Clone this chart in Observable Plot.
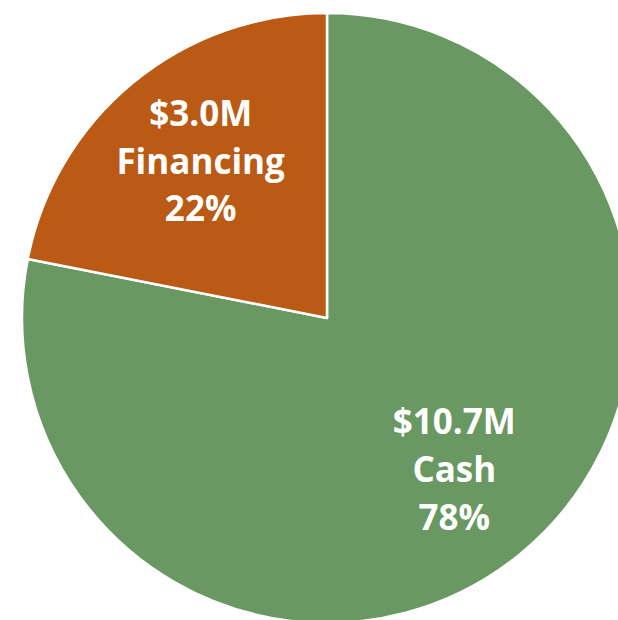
<!DOCTYPE html>
<html>
<head>
<meta charset="utf-8">
<script src="https://cdn.jsdelivr.net/npm/d3@7"></script>
<script src="https://cdn.jsdelivr.net/npm/@observablehq/plot@0.6"></script>
<style>
  html, body { margin: 0; padding: 0; background: #fff; overflow: hidden; }
</style>
</head>
<body>
<div id="chart"></div>
<script>
const categories = ["Cash", "Financing"];
const amounts = [10.7, 3.0];          // $M
const colors = ["#6A9862", "#BA5A14"];

const total = d3.sum(amounts);
const pie = d3.pie().sort(null).value(d => d.amount);
const rows = categories.map((c, i) => ({category: c, amount: amounts[i], color: colors[i]}));
const arcs = pie(rows);

const labelR = 0.655;
const labelArc = d3.arc().innerRadius(labelR).outerRadius(labelR);
const labels = arcs.map(a => {
  const [cx, cy] = labelArc.centroid(a);
  return {
    x: cx,
    y: -cy,
    text: `$${a.data.amount.toFixed(1)}M\n${a.data.category}\n${Math.round(a.data.amount / total * 100)}%`
  };
});

function pieMark(index, scales) {
  const sx = scales.x, sy = scales.y;
  const cx = sx(0), cy = sy(0);
  const r = Math.abs(sx(1) - sx(0));
  const arc = d3.arc().innerRadius(0).outerRadius(r);
  const g = d3.create("svg:g").attr("transform", `translate(${cx},${cy})`);
  g.selectAll("path")
    .data(arcs)
    .join("path")
    .attr("d", arc)
    .attr("fill", d => d.data.color)
    .attr("stroke", "#fff")
    .attr("stroke-width", 2.5)
    .attr("stroke-linejoin", "round");
  return g.node();
}

const chart = Plot.plot({
  width: 618,
  height: 620,
  margin: 0,
  style: {background: "#fff"},
  x: {domain: [-1, 1], range: [22, 632], axis: null},
  y: {domain: [-1, 1], range: [623, 13], axis: null},
  marks: [
    pieMark,
    Plot.text(labels, {
      x: "x",
      y: "y",
      text: "text",
      fill: "#fff",
      fontSize: 35,
      fontWeight: "bold",
      fontFamily: "'Open Sans', 'Noto Sans', sans-serif",
      lineHeight: 1.37,
      dy: -6,
      textAnchor: "middle"
    })
  ]
});
document.getElementById("chart").append(chart);
</script>
</body>
</html>
